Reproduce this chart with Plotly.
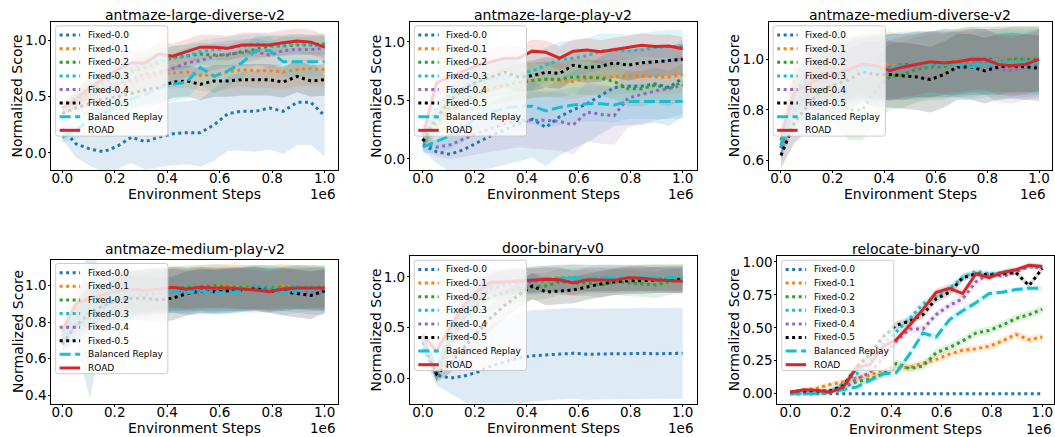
import numpy as np
import plotly.graph_objects as go

W, H = 1055, 437

# evaluation checkpoints (environment steps)
steps = np.linspace(0, 1_000_000, 20)

methods = ["Fixed-0.0", "Fixed-0.1", "Fixed-0.2", "Fixed-0.3",
           "Fixed-0.4", "Fixed-0.5", "Balanced Replay", "ROAD"]
colors = ["#1f77b4", "#ff7f0e", "#2ca02c", "#17becf",
          "#9467bd", "#000000", "#17becf", "#d62728"]

tasks = ["antmaze-large-diverse-v2", "antmaze-large-play-v2", "antmaze-medium-diverse-v2",
         "antmaze-medium-play-v2", "door-binary-v0", "relocate-binary-v0"]

x_tick_vals = [0, 200000, 400000, 600000, 800000, 1000000]
x_tick_text = ["0.0", "0.2", "0.4", "0.6", "0.8", "1.0"]
y_tick_vals = [[0.0, 0.5, 1.0], [0.0, 0.5, 1.0], [0.6, 0.8, 1.0],
               [0.4, 0.6, 0.8, 1.0], [0.0, 0.5, 1.0], [0.0, 0.25, 0.5, 0.75, 1.0]]
y_ranges = [[-0.153, 1.165], [-0.096, 1.17], [0.562, 1.148],
            [0.355, 1.141], [-0.251, 1.203], [-0.075, 1.043]]

# ---- antmaze-large-diverse-v2 ----
large_diverse_mean = {
    "Fixed-0.0": [0.22, 0.08, 0.035, 0.01, 0.06, 0.14, 0.10, 0.14, 0.17, 0.18, 0.18, 0.25, 0.35, 0.37, 0.37, 0.40, 0.37, 0.45, 0.45, 0.33],
    "Fixed-0.1": [0.40, 0.45, 0.50, 0.55, 0.60, 0.63, 0.66, 0.70, 0.71, 0.72, 0.69, 0.69, 0.72, 0.74, 0.73, 0.73, 0.72, 0.74, 0.75, 0.74],
    "Fixed-0.2": [0.40, 0.48, 0.55, 0.62, 0.68, 0.72, 0.76, 0.80, 0.85, 0.86, 0.88, 0.87, 0.87, 0.90, 0.92, 0.95, 0.95, 0.96, 0.96, 0.97],
    "Fixed-0.3": [0.40, 0.50, 0.58, 0.65, 0.70, 0.75, 0.80, 0.82, 0.84, 0.86, 0.90, 0.92, 0.93, 0.95, 0.97, 0.96, 0.96, 0.97, 0.96, 0.95],
    "Fixed-0.4": [0.40, 0.45, 0.52, 0.58, 0.62, 0.66, 0.70, 0.72, 0.75, 0.80, 0.82, 0.86, 0.88, 0.89, 0.90, 0.87, 0.91, 0.92, 0.92, 0.93],
    "Fixed-0.5": [0.35, 0.40, 0.44, 0.48, 0.50, 0.53, 0.56, 0.58, 0.63, 0.64, 0.61, 0.64, 0.64, 0.65, 0.65, 0.65, 0.63, 0.68, 0.64, 0.65],
    "Balanced Replay": [0.14, 0.20, 0.30, 0.35, 0.42, 0.48, 0.52, 0.58, 0.61, 0.63, 0.76, 0.68, 0.73, 0.80, 0.91, 0.91, 0.81, 0.81, 0.81, 0.81],
    "ROAD": [0.40, 0.48, 0.58, 0.66, 0.74, 0.80, 0.80, 0.88, 0.86, 0.90, 0.94, 0.94, 0.93, 0.96, 0.96, 0.96, 0.98, 0.995, 0.985, 0.94],
}
large_diverse_std = {
    "Fixed-0.0": [0.10, 0.12, 0.15, 0.18, 0.20, 0.23, 0.25, 0.27, 0.28, 0.28, 0.30, 0.32, 0.33, 0.35, 0.36, 0.37, 0.38, 0.38, 0.38, 0.36],
    "Fixed-0.1": [0.05, 0.07, 0.09, 0.10, 0.11, 0.12, 0.13, 0.13, 0.14, 0.14, 0.14, 0.15, 0.15, 0.15, 0.15, 0.15, 0.15, 0.15, 0.15, 0.15],
    "Fixed-0.2": [0.05, 0.07, 0.08, 0.09, 0.10, 0.10, 0.10, 0.10, 0.10, 0.10, 0.10, 0.10, 0.10, 0.10, 0.10, 0.09, 0.09, 0.09, 0.09, 0.09],
    "Fixed-0.3": [0.05, 0.08, 0.09, 0.10, 0.10, 0.11, 0.11, 0.11, 0.11, 0.11, 0.10, 0.10, 0.10, 0.10, 0.09, 0.09, 0.09, 0.09, 0.09, 0.09],
    "Fixed-0.4": [0.05, 0.08, 0.10, 0.11, 0.12, 0.12, 0.13, 0.13, 0.13, 0.13, 0.13, 0.12, 0.12, 0.12, 0.12, 0.12, 0.12, 0.11, 0.11, 0.11],
    "Fixed-0.5": [0.05, 0.08, 0.10, 0.11, 0.12, 0.13, 0.13, 0.14, 0.14, 0.14, 0.14, 0.14, 0.14, 0.14, 0.14, 0.14, 0.14, 0.14, 0.14, 0.14],
    "Balanced Replay": [0.05, 0.08, 0.10, 0.12, 0.13, 0.14, 0.14, 0.15, 0.15, 0.15, 0.15, 0.15, 0.14, 0.14, 0.13, 0.13, 0.13, 0.13, 0.13, 0.13],
    "ROAD": [0.05, 0.08, 0.10, 0.11, 0.11, 0.11, 0.11, 0.11, 0.11, 0.11, 0.11, 0.11, 0.11, 0.11, 0.11, 0.11, 0.11, 0.11, 0.11, 0.11],
}

# ---- antmaze-large-play-v2 ----
large_play_mean = {
    "Fixed-0.0": [0.12, 0.06, 0.04, 0.08, 0.14, 0.20, 0.25, 0.30, 0.34, 0.27, 0.36, 0.42, 0.47, 0.54, 0.61, 0.62, 0.62, 0.64, 0.61, 0.69],
    "Fixed-0.1": [0.15, 0.30, 0.42, 0.50, 0.55, 0.60, 0.63, 0.66, 0.67, 0.68, 0.67, 0.66, 0.69, 0.70, 0.70, 0.71, 0.71, 0.70, 0.70, 0.72],
    "Fixed-0.2": [0.15, 0.30, 0.45, 0.50, 0.55, 0.60, 0.63, 0.65, 0.67, 0.68, 0.68, 0.70, 0.70, 0.69, 0.66, 0.60, 0.60, 0.63, 0.60, 0.66],
    "Fixed-0.3": [0.15, 0.45, 0.55, 0.60, 0.65, 0.68, 0.70, 0.73, 0.75, 0.80, 0.85, 0.86, 0.88, 0.92, 0.93, 0.92, 0.93, 0.95, 0.96, 0.96],
    "Fixed-0.4": [0.12, 0.10, 0.12, 0.17, 0.22, 0.26, 0.30, 0.33, 0.33, 0.33, 0.32, 0.29, 0.40, 0.38, 0.37, 0.52, 0.55, 0.58, 0.60, 0.63],
    "Fixed-0.5": [0.15, 0.35, 0.50, 0.60, 0.66, 0.70, 0.74, 0.70, 0.71, 0.74, 0.73, 0.80, 0.78, 0.79, 0.82, 0.80, 0.82, 0.83, 0.84, 0.85],
    "Balanced Replay": [0.10, 0.15, 0.20, 0.28, 0.35, 0.40, 0.43, 0.45, 0.45, 0.41, 0.44, 0.46, 0.47, 0.47, 0.46, 0.49, 0.49, 0.49, 0.49, 0.49],
    "ROAD": [0.20, 0.65, 0.70, 0.75, 0.80, 0.83, 0.86, 0.86, 0.92, 0.91, 0.86, 0.92, 0.93, 0.915, 0.935, 0.955, 0.97, 0.96, 0.963, 0.94],
}
large_play_std = {
    "Fixed-0.0": [0.05, 0.10, 0.15, 0.20, 0.25, 0.28, 0.30, 0.32, 0.33, 0.33, 0.33, 0.33, 0.33, 0.33, 0.33, 0.33, 0.33, 0.33, 0.33, 0.33],
    "Fixed-0.1": [0.05, 0.10, 0.12, 0.13, 0.14, 0.14, 0.15, 0.15, 0.15, 0.15, 0.15, 0.15, 0.15, 0.15, 0.15, 0.15, 0.15, 0.15, 0.15, 0.15],
    "Fixed-0.2": [0.05, 0.10, 0.12, 0.13, 0.14, 0.14, 0.15, 0.15, 0.15, 0.15, 0.15, 0.15, 0.15, 0.15, 0.15, 0.15, 0.15, 0.15, 0.15, 0.15],
    "Fixed-0.3": [0.05, 0.12, 0.14, 0.15, 0.15, 0.15, 0.15, 0.15, 0.15, 0.15, 0.15, 0.15, 0.15, 0.15, 0.14, 0.14, 0.14, 0.14, 0.14, 0.14],
    "Fixed-0.4": [0.05, 0.08, 0.12, 0.15, 0.18, 0.20, 0.22, 0.23, 0.24, 0.25, 0.25, 0.25, 0.25, 0.25, 0.25, 0.25, 0.25, 0.25, 0.25, 0.25],
    "Fixed-0.5": [0.05, 0.10, 0.12, 0.13, 0.13, 0.13, 0.13, 0.13, 0.13, 0.13, 0.13, 0.13, 0.13, 0.13, 0.13, 0.13, 0.13, 0.13, 0.13, 0.13],
    "Balanced Replay": [0.05, 0.10, 0.12, 0.13, 0.14, 0.15, 0.15, 0.15, 0.15, 0.15, 0.15, 0.15, 0.15, 0.15, 0.15, 0.15, 0.15, 0.15, 0.15, 0.15],
    "ROAD": [0.05, 0.12, 0.12, 0.12, 0.12, 0.11, 0.11, 0.10, 0.10, 0.10, 0.10, 0.10, 0.10, 0.10, 0.10, 0.10, 0.10, 0.10, 0.10, 0.10],
}

# ---- antmaze-medium-diverse-v2 ----
medium_diverse_mean = {
    "Fixed-0.0": [0.65, 0.88, 0.92, 0.94, 0.95, 0.96, 0.97, 0.97, 0.97, 0.98, 0.98, 0.98, 0.99, 0.99, 1.00, 1.00, 1.00, 1.00, 1.00, 1.00],
    "Fixed-0.1": [0.68, 0.92, 0.95, 0.96, 0.97, 0.97, 0.98, 0.98, 0.98, 0.97, 0.98, 0.98, 0.99, 0.99, 0.99, 0.99, 1.00, 1.00, 1.00, 1.00],
    "Fixed-0.2": [0.68, 0.80, 0.86, 0.88, 0.85, 0.80, 0.80, 0.88, 0.93, 0.94, 0.96, 0.97, 0.97, 0.99, 1.00, 0.99, 0.99, 1.00, 1.00, 1.00],
    "Fixed-0.3": [0.66, 0.85, 0.90, 0.93, 0.95, 0.96, 0.97, 0.97, 0.97, 0.97, 0.98, 0.98, 0.99, 0.98, 0.98, 0.99, 0.99, 0.99, 0.99, 0.99],
    "Fixed-0.4": [0.65, 0.82, 0.88, 0.91, 0.93, 0.95, 0.96, 0.96, 0.97, 0.97, 0.97, 0.98, 0.98, 0.98, 0.99, 0.99, 0.96, 0.955, 0.97, 0.98],
    "Fixed-0.5": [0.62, 0.75, 0.82, 0.88, 0.90, 0.92, 0.95, 0.94, 0.94, 0.935, 0.93, 0.92, 0.94, 0.97, 0.97, 0.955, 0.97, 0.975, 0.97, 0.965],
    "Balanced Replay": [0.66, 0.86, 0.90, 0.93, 0.94, 0.95, 0.96, 0.96, 0.97, 0.97, 0.98, 0.98, 0.98, 0.98, 0.97, 0.98, 0.98, 0.98, 0.98, 0.99],
    "ROAD": [0.70, 0.87, 0.90, 0.93, 0.94, 0.96, 0.98, 0.975, 0.955, 0.97, 0.98, 0.99, 0.985, 0.99, 1.00, 1.00, 0.98, 0.975, 0.98, 1.00],
}
medium_diverse_std = {
    "Fixed-0.0": [0.05, 0.08, 0.10, 0.11, 0.12, 0.12, 0.12, 0.13, 0.13, 0.13, 0.13, 0.13, 0.13, 0.13, 0.13, 0.13, 0.13, 0.13, 0.13, 0.13],
    "Fixed-0.1": [0.05, 0.08, 0.10, 0.11, 0.12, 0.12, 0.12, 0.13, 0.13, 0.13, 0.13, 0.13, 0.13, 0.13, 0.13, 0.13, 0.13, 0.13, 0.13, 0.13],
    "Fixed-0.2": [0.05, 0.08, 0.10, 0.11, 0.12, 0.12, 0.12, 0.13, 0.13, 0.13, 0.13, 0.13, 0.13, 0.13, 0.13, 0.13, 0.13, 0.13, 0.13, 0.13],
    "Fixed-0.3": [0.05, 0.08, 0.10, 0.11, 0.12, 0.12, 0.12, 0.13, 0.13, 0.13, 0.13, 0.13, 0.13, 0.13, 0.13, 0.13, 0.13, 0.13, 0.13, 0.13],
    "Fixed-0.4": [0.05, 0.08, 0.10, 0.11, 0.12, 0.12, 0.12, 0.13, 0.13, 0.13, 0.13, 0.13, 0.13, 0.13, 0.13, 0.13, 0.13, 0.13, 0.13, 0.13],
    "Fixed-0.5": [0.05, 0.08, 0.10, 0.11, 0.12, 0.12, 0.12, 0.13, 0.13, 0.13, 0.13, 0.13, 0.13, 0.13, 0.13, 0.13, 0.13, 0.13, 0.13, 0.13],
    "Balanced Replay": [0.05, 0.08, 0.10, 0.11, 0.12, 0.12, 0.12, 0.13, 0.13, 0.13, 0.13, 0.13, 0.13, 0.13, 0.13, 0.13, 0.13, 0.13, 0.13, 0.13],
    "ROAD": [0.05, 0.08, 0.10, 0.11, 0.12, 0.12, 0.12, 0.12, 0.12, 0.12, 0.12, 0.12, 0.12, 0.12, 0.12, 0.12, 0.12, 0.12, 0.12, 0.12],
}

# ---- antmaze-medium-play-v2 ----
medium_play_mean = {
    "Fixed-0.0": [0.70, 0.78, 0.82, 0.88, 0.92, 0.94, 0.95, 0.96, 0.97, 0.97, 0.98, 0.98, 0.98, 0.98, 0.99, 0.98, 0.98, 0.99, 0.98, 0.98],
    "Fixed-0.1": [0.74, 0.85, 0.90, 0.93, 0.95, 0.96, 0.97, 0.98, 0.99, 0.98, 0.99, 0.99, 1.00, 0.99, 0.99, 0.99, 1.00, 0.99, 0.99, 0.99],
    "Fixed-0.2": [0.72, 0.84, 0.89, 0.92, 0.95, 0.96, 0.97, 0.97, 0.98, 0.99, 0.99, 1.00, 0.99, 0.99, 0.99, 0.99, 0.99, 0.99, 0.99, 0.99],
    "Fixed-0.3": [0.72, 0.82, 0.88, 0.92, 0.94, 0.96, 0.97, 0.98, 0.98, 0.98, 0.98, 0.97, 0.98, 0.98, 0.99, 0.99, 0.98, 0.99, 0.99, 0.98],
    "Fixed-0.4": [0.70, 0.80, 0.86, 0.90, 0.93, 0.95, 0.96, 0.97, 0.97, 0.96, 0.96, 0.97, 0.97, 0.98, 0.98, 0.97, 0.98, 0.97, 0.96, 0.96],
    "Fixed-0.5": [0.68, 0.78, 0.85, 0.89, 0.92, 0.93, 0.93, 0.92, 0.93, 0.955, 0.97, 0.965, 0.97, 0.975, 0.98, 0.97, 0.965, 0.955, 0.945, 0.97],
    "Balanced Replay": [0.72, 0.84, 0.90, 0.93, 0.95, 0.96, 0.97, 0.97, 0.97, 0.96, 0.97, 0.96, 0.96, 0.97, 0.97, 0.97, 0.96, 0.97, 0.98, 0.98],
    "ROAD": [0.75, 0.90, 0.93, 0.95, 0.97, 0.98, 0.97, 0.98, 0.99, 0.98, 0.99, 0.985, 0.985, 0.98, 0.975, 0.965, 0.98, 0.985, 0.985, 0.985],
}
medium_play_std = {
    "Fixed-0.0": [0.05, 0.10, 0.44, 0.12, 0.12, 0.12, 0.12, 0.12, 0.12, 0.12, 0.12, 0.12, 0.12, 0.12, 0.12, 0.12, 0.12, 0.12, 0.12, 0.12],
    "Fixed-0.1": [0.05, 0.08, 0.10, 0.11, 0.12, 0.12, 0.12, 0.12, 0.12, 0.12, 0.12, 0.12, 0.12, 0.12, 0.12, 0.12, 0.12, 0.12, 0.12, 0.12],
    "Fixed-0.2": [0.05, 0.08, 0.10, 0.11, 0.12, 0.12, 0.12, 0.12, 0.12, 0.12, 0.12, 0.12, 0.12, 0.12, 0.12, 0.12, 0.12, 0.12, 0.12, 0.12],
    "Fixed-0.3": [0.05, 0.08, 0.10, 0.11, 0.12, 0.12, 0.12, 0.12, 0.12, 0.12, 0.12, 0.12, 0.12, 0.12, 0.12, 0.12, 0.12, 0.12, 0.12, 0.12],
    "Fixed-0.4": [0.05, 0.08, 0.10, 0.11, 0.12, 0.12, 0.12, 0.12, 0.12, 0.12, 0.12, 0.12, 0.12, 0.12, 0.12, 0.12, 0.12, 0.12, 0.12, 0.12],
    "Fixed-0.5": [0.05, 0.08, 0.10, 0.11, 0.12, 0.12, 0.12, 0.12, 0.12, 0.12, 0.12, 0.12, 0.12, 0.12, 0.12, 0.12, 0.13, 0.13, 0.13, 0.12],
    "Balanced Replay": [0.05, 0.08, 0.10, 0.11, 0.12, 0.12, 0.12, 0.12, 0.12, 0.12, 0.12, 0.12, 0.12, 0.12, 0.12, 0.12, 0.12, 0.12, 0.12, 0.12],
    "ROAD": [0.05, 0.08, 0.10, 0.11, 0.11, 0.11, 0.11, 0.11, 0.11, 0.11, 0.11, 0.11, 0.11, 0.11, 0.11, 0.11, 0.11, 0.11, 0.11, 0.11],
}

# ---- door-binary-v0 ----
door_mean = {
    "Fixed-0.0": [0.30, 0.03, 0.00, 0.02, 0.06, 0.12, 0.16, 0.20, 0.22, 0.23, 0.24, 0.245, 0.235, 0.24, 0.24, 0.24, 0.245, 0.24, 0.245, 0.245],
    "Fixed-0.1": [0.42, 0.05, 0.40, 0.65, 0.80, 0.90, 0.94, 0.96, 0.97, 0.98, 0.99, 1.00, 0.99, 0.99, 0.99, 0.99, 0.99, 1.00, 1.00, 1.00],
    "Fixed-0.2": [0.40, 0.05, 0.35, 0.60, 0.72, 0.80, 0.85, 0.88, 0.90, 0.91, 0.95, 0.94, 0.94, 0.92, 0.95, 0.94, 0.93, 0.92, 0.95, 0.97],
    "Fixed-0.3": [0.40, 0.05, 0.40, 0.65, 0.82, 0.92, 0.95, 0.96, 0.97, 0.98, 0.99, 0.99, 0.99, 0.99, 0.99, 0.99, 0.99, 0.99, 0.99, 0.99],
    "Fixed-0.4": [0.38, 0.05, 0.35, 0.60, 0.78, 0.88, 0.92, 0.94, 0.95, 0.96, 0.96, 0.95, 0.96, 0.97, 0.97, 0.97, 0.98, 0.97, 0.98, 0.98],
    "Fixed-0.5": [0.35, 0.04, 0.15, 0.30, 0.45, 0.60, 0.72, 0.82, 0.91, 0.85, 0.86, 0.87, 0.90, 0.93, 0.95, 0.96, 0.96, 0.97, 0.97, 0.97],
    "Balanced Replay": [0.40, 0.10, 0.45, 0.70, 0.85, 0.93, 0.95, 0.96, 0.97, 0.98, 0.98, 0.99, 0.98, 0.99, 0.99, 0.98, 0.99, 0.99, 0.99, 0.99],
    "ROAD": [0.42, 0.27, 0.50, 0.72, 0.86, 0.95, 0.95, 0.96, 0.97, 0.975, 0.97, 0.94, 0.97, 0.965, 0.965, 0.99, 0.985, 0.97, 0.965, 0.955],
}
door_std = {
    "Fixed-0.0": [0.10, 0.10, 0.15, 0.25, 0.35, 0.40, 0.43, 0.45, 0.45, 0.45, 0.45, 0.45, 0.45, 0.45, 0.45, 0.45, 0.45, 0.45, 0.45, 0.45],
    "Fixed-0.1": [0.05, 0.08, 0.10, 0.12, 0.13, 0.13, 0.13, 0.13, 0.13, 0.13, 0.13, 0.13, 0.13, 0.13, 0.13, 0.13, 0.13, 0.13, 0.13, 0.13],
    "Fixed-0.2": [0.05, 0.08, 0.10, 0.12, 0.13, 0.13, 0.13, 0.13, 0.13, 0.13, 0.13, 0.13, 0.13, 0.13, 0.13, 0.13, 0.13, 0.13, 0.13, 0.13],
    "Fixed-0.3": [0.05, 0.08, 0.10, 0.12, 0.13, 0.13, 0.13, 0.13, 0.13, 0.13, 0.13, 0.13, 0.13, 0.13, 0.13, 0.13, 0.13, 0.13, 0.13, 0.13],
    "Fixed-0.4": [0.05, 0.08, 0.10, 0.12, 0.13, 0.13, 0.13, 0.13, 0.13, 0.13, 0.13, 0.13, 0.13, 0.13, 0.13, 0.13, 0.13, 0.13, 0.13, 0.13],
    "Fixed-0.5": [0.05, 0.08, 0.10, 0.12, 0.13, 0.13, 0.13, 0.13, 0.13, 0.13, 0.13, 0.13, 0.13, 0.13, 0.13, 0.13, 0.13, 0.13, 0.13, 0.13],
    "Balanced Replay": [0.05, 0.10, 0.10, 0.12, 0.13, 0.13, 0.13, 0.13, 0.13, 0.13, 0.13, 0.13, 0.13, 0.13, 0.13, 0.13, 0.13, 0.13, 0.13, 0.13],
    "ROAD": [0.05, 0.08, 0.10, 0.12, 0.12, 0.12, 0.12, 0.12, 0.12, 0.12, 0.12, 0.12, 0.12, 0.12, 0.12, 0.12, 0.12, 0.12, 0.12, 0.12],
}

# ---- relocate-binary-v0 ----
relocate_mean = {
    "Fixed-0.0": [0.00, 0.00, 0.00, 0.00, 0.00, 0.00, 0.00, 0.00, 0.00, 0.00, 0.00, 0.00, 0.00, 0.00, 0.00, 0.00, 0.00, 0.00, 0.00, 0.00],
    "Fixed-0.1": [0.01, 0.03, 0.04, 0.07, 0.09, 0.12, 0.14, 0.18, 0.19, 0.20, 0.23, 0.26, 0.30, 0.33, 0.34, 0.36, 0.40, 0.45, 0.41, 0.43],
    "Fixed-0.2": [0.00, 0.01, 0.01, 0.02, 0.05, 0.09, 0.11, 0.15, 0.23, 0.19, 0.21, 0.31, 0.35, 0.40, 0.46, 0.48, 0.52, 0.57, 0.60, 0.64],
    "Fixed-0.3": [0.00, 0.00, 0.00, 0.01, 0.08, 0.15, 0.25, 0.38, 0.47, 0.57, 0.68, 0.74, 0.80, 0.88, 0.93, 0.91, 0.92, 0.94, 0.96, 0.97],
    "Fixed-0.4": [0.00, 0.01, 0.01, 0.02, 0.05, 0.11, 0.16, 0.27, 0.40, 0.49, 0.49, 0.60, 0.67, 0.72, 0.85, 0.91, 0.89, 0.92, 0.97, 0.95],
    "Fixed-0.5": [0.01, 0.02, 0.02, 0.02, 0.06, 0.20, 0.30, 0.43, 0.52, 0.55, 0.60, 0.72, 0.77, 0.88, 0.91, 0.90, 0.91, 0.92, 0.82, 0.95],
    "Balanced Replay": [0.00, 0.00, 0.00, 0.01, 0.03, 0.05, 0.10, 0.15, 0.16, 0.30, 0.46, 0.43, 0.56, 0.63, 0.69, 0.76, 0.77, 0.79, 0.80, 0.80],
    "ROAD": [0.01, 0.03, 0.025, 0.01, 0.05, 0.20, 0.22, 0.36, 0.41, 0.52, 0.64, 0.77, 0.80, 0.76, 0.91, 0.88, 0.92, 0.94, 0.975, 0.965],
}
relocate_std = {
    "Fixed-0.0": [0.00, 0.00, 0.00, 0.00, 0.00, 0.00, 0.00, 0.00, 0.00, 0.00, 0.00, 0.00, 0.00, 0.00, 0.00, 0.00, 0.00, 0.00, 0.00, 0.00],
    "Fixed-0.1": [0.01, 0.01, 0.02, 0.02, 0.02, 0.02, 0.03, 0.03, 0.03, 0.03, 0.03, 0.03, 0.03, 0.03, 0.03, 0.03, 0.03, 0.03, 0.03, 0.03],
    "Fixed-0.2": [0.01, 0.01, 0.01, 0.02, 0.02, 0.02, 0.03, 0.03, 0.03, 0.03, 0.03, 0.03, 0.03, 0.03, 0.03, 0.03, 0.03, 0.03, 0.03, 0.03],
    "Fixed-0.3": [0.01, 0.01, 0.01, 0.02, 0.02, 0.03, 0.03, 0.03, 0.03, 0.03, 0.03, 0.03, 0.03, 0.03, 0.02, 0.02, 0.02, 0.02, 0.02, 0.02],
    "Fixed-0.4": [0.01, 0.01, 0.01, 0.02, 0.02, 0.03, 0.03, 0.03, 0.03, 0.03, 0.03, 0.03, 0.03, 0.03, 0.03, 0.02, 0.02, 0.02, 0.02, 0.02],
    "Fixed-0.5": [0.01, 0.01, 0.01, 0.02, 0.02, 0.03, 0.03, 0.03, 0.03, 0.03, 0.03, 0.03, 0.03, 0.03, 0.02, 0.02, 0.02, 0.02, 0.02, 0.02],
    "Balanced Replay": [0.01, 0.01, 0.01, 0.01, 0.02, 0.02, 0.02, 0.03, 0.03, 0.03, 0.03, 0.03, 0.03, 0.03, 0.03, 0.02, 0.02, 0.02, 0.02, 0.02],
    "ROAD": [0.01, 0.01, 0.01, 0.01, 0.02, 0.02, 0.03, 0.03, 0.03, 0.03, 0.03, 0.03, 0.03, 0.03, 0.02, 0.02, 0.02, 0.02, 0.02, 0.02],
}

all_means = [large_diverse_mean, large_play_mean, medium_diverse_mean,
             medium_play_mean, door_mean, relocate_mean]
all_stds = [large_diverse_std, large_play_std, medium_diverse_std,
            medium_play_std, door_std, relocate_std]

# ---- layout geometry in pixels: (left, top, right, bottom) of each axes frame ----
frames = [(51.3, 19.0, 338.5, 168.3), (410.3, 19.0, 697.3, 168.3), (769.5, 19.0, 1053.0, 168.3),
          (51.3, 258.3, 338.5, 403.3), (410.3, 255.0, 697.3, 403.3), (778.0, 255.0, 1055.0, 403.3)]
x_zero_px = [62.3, 423.3, 781.7, 62.3, 423.3, 791.0]
x_one_px = [325.0, 683.3, 1040.0, 325.0, 683.3, 1043.3]
title_y_px = [12.4, 12.4, 12.4, 247.8, 246.8, 247.4]
xlabel_y_px = [192.5, 192.5, 192.5, 427.5, 427.5, 429.0]
ylabel_x_px = [17.5, 376.0, 735.0, 17.5, 376.0, 735.0]
offset_right_px = [337.0, 696.0, 1048.0, 337.0, 696.0, 1054.0]

FONT = "DejaVu Sans"


def line_dash(method):
    if method.startswith("Fixed"):
        return "3px,3.5px"
    if method == "Balanced Replay":
        return "11px,4.5px"
    return "solid"


def rgba(hex_color, alpha):
    r, g, b = (int(hex_color[i:i + 2], 16) for i in (1, 3, 5))
    return f"rgba({r},{g},{b},{alpha})"


def px(x):
    return x / W


def py(y):
    return 1 - y / H


fig = go.Figure()

for i in range(6):
    xa = "x" if i == 0 else f"x{i + 1}"
    ya = "y" if i == 0 else f"y{i + 1}"
    means, stds = all_means[i], all_stds[i]
    # shaded spread bands
    for m, c in zip(methods, colors):
        mu = np.array(means[m])
        sd = np.array(stds[m])
        fig.add_trace(go.Scatter(
            x=np.concatenate([steps, steps[::-1]]),
            y=np.concatenate([mu + sd, (mu - sd)[::-1]]),
            fill="toself", fillcolor=rgba(c, 0.15), mode="lines",
            line=dict(width=0, color=rgba(c, 0)), hoverinfo="skip",
            showlegend=False, xaxis=xa, yaxis=ya))
    # mean curves
    for m, c in zip(methods, colors):
        fig.add_trace(go.Scatter(
            x=steps, y=means[m], mode="lines", name=m,
            line=dict(color=c, width=3, dash=line_dash(m)),
            showlegend=False, xaxis=xa, yaxis=ya))

layout = dict(
    width=W, height=H, margin=dict(l=0, r=0, t=0, b=0),
    paper_bgcolor="white", plot_bgcolor="white", showlegend=False,
    font=dict(family=FONT, size=13.5, color="black"),
)

axis_common = dict(showline=True, mirror=True, linecolor="black", linewidth=1,
                   ticks="outside", ticklen=2, tickwidth=1, tickcolor="black",
                   showgrid=False, zeroline=False,
                   tickfont=dict(family=FONT, size=13.5, color="black"))

annotations = []
shapes = []

for i in range(6):
    fl, ft, fr, fb = frames[i]
    key = "" if i == 0 else str(i + 1)
    span = x_one_px[i] - x_zero_px[i]
    xr = [(fl - x_zero_px[i]) / span * 1e6, (fr - x_zero_px[i]) / span * 1e6]
    layout[f"xaxis{key}"] = dict(domain=[px(fl), px(fr)], anchor=f"y{key}", range=xr,
                                 tickmode="array", tickvals=x_tick_vals, ticktext=x_tick_text,
                                 ticklabelstandoff=-6, **axis_common)
    layout[f"yaxis{key}"] = dict(domain=[py(fb), py(ft)], anchor=f"x{key}", range=y_ranges[i],
                                 tickmode="array", tickvals=y_tick_vals[i],
                                 tickformat=".2f" if i == 5 else ".1f",
                                 ticklabelstandoff=-1, **axis_common)

    cx = (fl + fr) / 2
    cy = (ft + fb) / 2
    annotations.append(dict(text=tasks[i], x=px(cx), y=py(title_y_px[i]), xref="paper", yref="paper",
                            xanchor="center", yanchor="middle", showarrow=False,
                            font=dict(family=FONT, size=14, color="black")))
    annotations.append(dict(text="Environment Steps", x=px(cx), y=py(xlabel_y_px[i]), xref="paper",
                            yref="paper", xanchor="center", yanchor="middle", showarrow=False,
                            font=dict(family=FONT, size=14, color="black")))
    annotations.append(dict(text="1e6", x=px(offset_right_px[i]), y=py(xlabel_y_px[i]), xref="paper",
                            yref="paper", xanchor="right", yanchor="middle", showarrow=False,
                            font=dict(family=FONT, size=13.5, color="black")))
    annotations.append(dict(text="Normalized Score", x=px(ylabel_x_px[i]), y=py(cy), xref="paper",
                            yref="paper", xanchor="center", yanchor="middle", showarrow=False,
                            textangle=-90, font=dict(family=FONT, size=14, color="black")))

    # legend box in the upper-left corner of each axes
    bl, bt = fl + 4.4, ft + 4.0
    br, bb = bl + 112.3, bt + 111.0
    r = 2.5

    def P(x, y):
        return f"{px(x):.6f},{py(y):.6f}"

    path = (f"M {P(bl + r, bt)} L {P(br - r, bt)} Q {P(br, bt)} {P(br, bt + r)} "
            f"L {P(br, bb - r)} Q {P(br, bb)} {P(br - r, bb)} L {P(bl + r, bb)} "
            f"Q {P(bl, bb)} {P(bl, bb - r)} L {P(bl, bt + r)} Q {P(bl, bt)} {P(bl + r, bt)} Z")
    shapes.append(dict(type="path", path=path, xref="paper", yref="paper", layer="above",
                       fillcolor="rgba(255,255,255,0.8)", line=dict(color="#cccccc", width=1)))
    for j, (m, c) in enumerate(zip(methods, colors)):
        ry = bt + 9.3 + 13.7 * j
        shapes.append(dict(type="line", xref="paper", yref="paper", layer="above",
                           x0=px(bl + 4.0), x1=px(bl + 24.5), y0=py(ry), y1=py(ry),
                           line=dict(color=c, width=3, dash=line_dash(m))))
        annotations.append(dict(text=m, x=px(bl + 30.0), y=py(ry), xref="paper", yref="paper",
                                xanchor="left", yanchor="middle", showarrow=False,
                                font=dict(family=FONT, size=9, color="black")))

layout["annotations"] = annotations
layout["shapes"] = shapes
fig.update_layout(**layout)

fig.write_html("out.html")
